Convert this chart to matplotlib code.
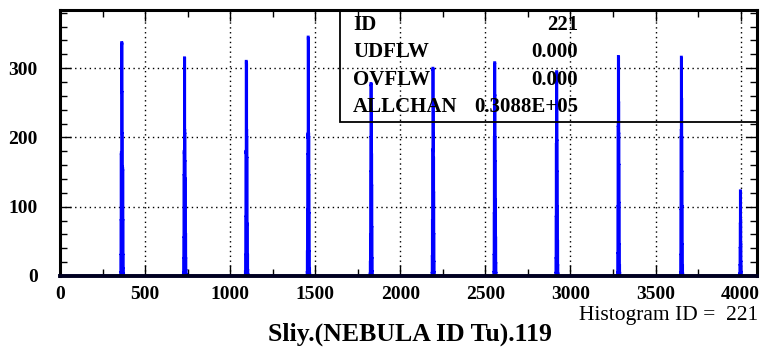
import numpy as np
import matplotlib
matplotlib.use("Agg")
import matplotlib.pyplot as plt
from matplotlib.ticker import MultipleLocator
from matplotlib.patches import Rectangle

# ---- data ----
n_channels = 4096
peak_starts = [356, 725, 1089, 1452, 1822, 2186, 2549, 2913, 3276, 3646, 3994]
peak1 = [5, 30, 80, 175, 178, 172, 337, 336, 334, 265, 205, 158, 155, 152, 80, 30, 10, 3]
peak2 = [4, 25, 55, 145, 180, 178, 315, 314, 210, 205, 165, 140, 138, 60, 25, 8, 2]
peak3 = [6, 30, 85, 180, 178, 310, 308, 305, 210, 200, 170, 75, 72, 30, 8, 2]
peak4 = [5, 35, 95, 175, 205, 200, 345, 343, 290, 205, 200, 145, 90, 35, 10, 3]
peak5 = [3, 20, 60, 150, 200, 278, 276, 240, 200, 175, 130, 70, 25, 6]
peak6 = [4, 28, 80, 180, 182, 300, 298, 250, 205, 170, 120, 60, 20, 5]
peak7 = [5, 30, 90, 200, 205, 308, 306, 260, 200, 165, 110, 55, 18, 4]
peak8 = [4, 25, 85, 190, 200, 295, 293, 240, 195, 150, 100, 50, 15, 3]
peak9 = [5, 32, 100, 215, 220, 317, 315, 250, 205, 160, 105, 45, 15, 4]
peak10 = [5, 30, 95, 200, 210, 316, 314, 255, 200, 150, 100, 45, 15, 3]
peak11 = [3, 15, 40, 75, 123, 121, 80, 45, 20, 5]
peaks = [peak1, peak2, peak3, peak4, peak5, peak6, peak7, peak8, peak9, peak10, peak11]

stat_labels = ["ID", "UDFLW", "OVFLW", "ALLCHAN"]
stat_values = ["221", "0.000", "0.000", "0.3088E+05"]
title_text = "Sliy.(NEBULA ID Tu).119"
hist_id_text = "Histogram ID =  221"

# ---- build histogram ----
counts = np.zeros(n_channels)
for s, p in zip(peak_starts, peaks):
    counts[s:s + len(p)] = p
edges = np.arange(n_channels + 1)

serif = ["Liberation Serif", "DejaVu Serif"]
plt.rcParams["font.family"] = serif

fig = plt.figure(figsize=(7.63, 3.52), dpi=100)
W, H = 763, 352
ax_l, ax_r, ax_t, ax_b = 60, 757, 10, 276
ax = fig.add_axes([ax_l / W, (H - ax_b) / H, (ax_r - ax_l) / W, (ax_b - ax_t) / H])

ax.stairs(counts, edges, color=(0, 0, 1), linewidth=2.0, baseline=0, zorder=2)

ax.set_xlim(0, n_channels)
ax.set_ylim(0, 384)
ax.xaxis.set_major_locator(MultipleLocator(500))
ax.xaxis.set_minor_locator(MultipleLocator(250))
ax.yaxis.set_major_locator(MultipleLocator(100))
ax.yaxis.set_minor_locator(MultipleLocator(20))

ax.grid(True, which="major", color="black", linestyle=(0, (1, 2.5)), linewidth=1)
ax.set_axisbelow(True)

ax.tick_params(which="both", direction="in", top=True, right=True, width=1, color="black")
ax.tick_params(which="major", length=8)
ax.tick_params(which="minor", length=5)
ax.tick_params(axis="x", which="major", pad=7)
ax.tick_params(axis="y", which="major", pad=16)
for lab in ax.get_xticklabels() + ax.get_yticklabels():
    lab.set_fontweight("bold")
    lab.set_fontsize(14)
for sp in ax.spines.values():
    sp.set_linewidth(2.2)
    sp.set_zorder(4)
ax.spines["bottom"].set_linewidth(2.8)
ax.spines["bottom"].set_color("#000020")

# statistics box
bx0 = (340 - ax_l) / (ax_r - ax_l)
by0 = (ax_b - 122) / (ax_b - ax_t)
ax.add_patch(Rectangle((bx0, by0), 1 - bx0, 1 - by0, transform=ax.transAxes,
                       fill=False, edgecolor="black", linewidth=1.3, zorder=5, clip_on=False))
row_y = [25, 52, 80, 107]
lab_x = (353 - ax_l) / (ax_r - ax_l)
val_x = (578 - ax_l) / (ax_r - ax_l)
for lab, val, yp in zip(stat_labels, stat_values, row_y):
    yf = (ax_b - yp) / (ax_b - ax_t)
    ax.text(lab_x, yf, lab, transform=ax.transAxes, ha="left", va="center",
            fontsize=15, fontweight="bold", zorder=6)
    ax.text(val_x, yf, val, transform=ax.transAxes, ha="right", va="center",
            fontsize=15, fontweight="bold", zorder=6)

fig.text(410 / W, 11 / H, title_text, ha="center", va="baseline",
         fontsize=18.5, fontweight="bold")
fig.text(758 / W, 32 / H, hist_id_text, ha="right", va="baseline", fontsize=15.5)

fig.savefig("out.png", dpi=100)
